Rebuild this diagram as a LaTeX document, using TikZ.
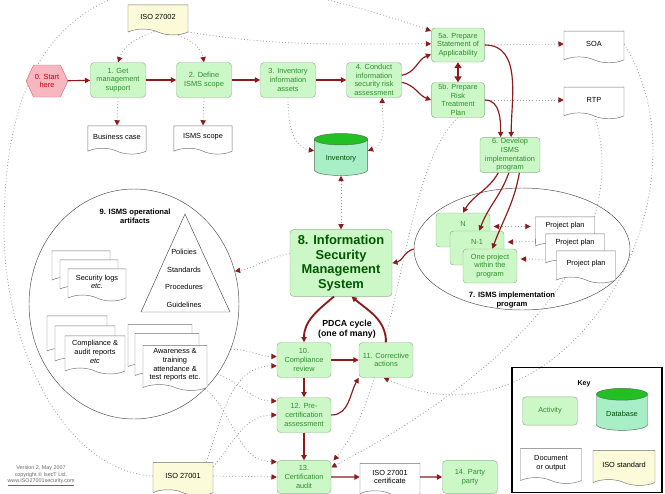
\documentclass[tikz,border=0pt]{standalone}
\usepackage{fontspec}
\setmainfont{Liberation Sans}
\usetikzlibrary{arrows.meta,positioning,calc,shapes.geometric,shapes.symbols,backgrounds}
\definecolor{actfill}{HTML}{CCF7C6}
\definecolor{actline}{HTML}{8FB58A}
\definecolor{acttext}{HTML}{2F8F2F}
\definecolor{flowred}{HTML}{8E1B1B}
\definecolor{refgray}{HTML}{9A9A9A}
\definecolor{docline}{HTML}{707070}
\definecolor{isofill}{HTML}{FBFBDA}
\definecolor{startfill}{HTML}{F8B7C0}
\definecolor{startline}{HTML}{D46A78}
\definecolor{dbtop}{HTML}{22C022}
\definecolor{dbbody}{HTML}{A8EFC8}
\newcommand{\boxfont}{\fontsize{6.3}{7.4}\selectfont}

\begin{document}
\begin{tikzpicture}[x=0.03cm,y=-0.03cm,>={Triangle[length=4.5pt,width=4.5pt]},
  redtip/.tip={Triangle[length=4.5pt,width=4.5pt,color=flowred]},
  act/.style={draw=actline,fill=actfill,rounded corners=3pt,text=acttext,align=center,
    inner sep=1pt,minimum width=1.65cm,minimum height=1.05cm,font=\boxfont},
  doc/.style={tape,tape bend top=none,tape bend bottom=out and in,tape bend height=5pt,
    draw=docline,fill=white,align=center,inner sep=1pt,minimum width=1.8cm,
    minimum height=0.95cm,font=\boxfont},
  iso/.style={doc,fill=isofill},
  db/.style={cylinder,shape border rotate=90,aspect=0.3,draw=actline!60!black,
    cylinder uses custom fill,cylinder body fill=dbbody,cylinder end fill=dbtop,
    text=green!30!black,minimum width=1.6cm,minimum height=1.26cm,font=\boxfont},
  title/.style={font=\bfseries\fontsize{6.5}{7.5}\selectfont,align=center},
  flow/.style={->,draw=flowred,line width=1pt},
  pdcaflow/.style={->,draw=flowred,line width=1.6pt},
  ref/.style={-redtip,draw=refgray,dotted,line width=0.7pt},
  ref2/.style={redtip-redtip,draw=refgray,dotted,line width=0.7pt}]
\useasboundingbox (0,0) rectangle (665,493);

\node[draw=black!70,ellipse,minimum width=6.3cm,minimum height=6.9cm] (art) at (134,304) {};
\node[title] (artlbl) at (135,216) {9. ISMS operational\\artifacts};
\node[draw=black!70,ellipse,minimum width=6.48cm,minimum height=3.66cm] (prog) at (522,249) {};
\node[title] (proglbl) at (512,300) {7. ISMS implementation\\program};

\node[iso,minimum height=0.9cm] (iso2) at (158,17) {ISO 27002};
\node[signal,signal to=east and west,signal pointer angle=130,draw=startline,fill=startfill,
  text=red!75!black,font=\boxfont,align=center,inner sep=1pt,minimum width=1.23cm,
  minimum height=0.96cm] (start) at (47,81) {0. Start\\here};
\node[act] (a1) at (118,80) {1. Get\\management\\support};
\node[act] (a2) at (204,80) {2. Define\\ISMS scope};
\node[act] (a3) at (288,80) {3. Inventory\\information\\assets};
\node[act] (a4) at (374,80) {4. Conduct\\information\\security risk\\assessment};
\node[act,minimum width=1.6cm,minimum height=1.02cm] (a5a) at (458,45) {5a. Prepare\\Statement of\\Applicability};
\node[act,minimum width=1.6cm] (a5b) at (458,100) {5b. Prepare\\Risk\\Treatment\\Plan};
\node[doc] (soa) at (594,44) {SOA};
\node[doc] (rtp) at (594,100) {RTP};
\node[act,minimum width=1.8cm] (a6) at (510,155) {6. Develop\\ISMS\\implementation\\program};
\node[doc,minimum width=1.75cm,minimum height=0.85cm] (bcase) at (117,137) {Business case};
\node[doc,minimum width=1.75cm,minimum height=0.85cm] (scopedoc) at (203,137) {ISMS scope};
\node[db] (inv) at (341,159) {Inventory};
\node[act,minimum width=3.06cm,minimum height=2cm,text=green!35!black,
  font=\bfseries\fontsize{11}{12.5}\selectfont] (isms) at (341,263) {8. Information\\Security\\Management\\System};

\draw[black!70] (185,214) -- (230,312) -- (141,312) -- cycle;
\foreach \t/\y in {Policies/252,Standards/270,Procedures/287,Guidelines/305}
  \node[font=\boxfont] (\t) at (184,\y) {\t};

\foreach \i/\x/\y in {1/81/264,2/89/273}
  \node[doc,minimum width=1.74cm,minimum height=0.96cm] (logs\i) at (\x,\y) {};
\node[doc,minimum width=1.74cm,minimum height=0.96cm] (logs) at (97,282) {Security logs\\\textit{etc.}};
\foreach \i/\x/\y in {1/77/332,2/85/342}
  \node[doc,minimum width=1.8cm,minimum height=1.14cm] (comp\i) at (\x,\y) {};
\node[doc,minimum width=1.8cm,minimum height=1.14cm] (comp) at (95,352) {Compliance \&\\audit reports\\\textit{etc}};
\foreach \i/\x/\y in {1/160/344,2/167/353}
  \node[doc,minimum width=1.92cm,minimum height=1.35cm] (aware\i) at (\x,\y) {};
\node[doc,minimum width=1.92cm,minimum height=1.35cm] (aware) at (175,365) {Awareness \&\\training\\attendance \&\\test reports etc.};

\node[act,minimum width=1.62cm,minimum height=1.02cm,text depth=10pt] (pn) at (463,230) {N};
\node[act,minimum width=1.62cm,minimum height=1.02cm,text depth=10pt] (pn1) at (477,248) {N-1};
\node[act,minimum width=1.62cm,minimum height=1.02cm] (pone) at (490,266) {One project\\within the\\program};
\node[doc,minimum width=1.77cm,minimum height=0.96cm,text depth=8pt] (pp1) at (565,230) {Project plan};
\node[doc,minimum width=1.77cm,minimum height=0.96cm,text depth=8pt] (pp2) at (575,247) {Project plan};
\node[doc,minimum width=1.77cm,minimum height=0.96cm] (pp3) at (586,264) {Project plan};

\node[act,minimum width=1.62cm] (a10) at (304,360) {10.\\Compliance\\review};
\node[act,minimum width=1.62cm] (a11) at (386,360) {11. Corrective\\actions};
\node[act,minimum width=1.62cm] (a12) at (304,415) {12. Pre-\\certification\\assessment};
\node[act,minimum width=1.62cm,minimum height=0.98cm] (a13) at (304,477) {13.\\Certification\\audit};
\node[doc,minimum height=1cm] (cert) at (390,477) {ISO 27001\\certificate};
\node[act,minimum width=1.65cm,minimum height=0.98cm] (a14) at (470,477) {14. Party\\party};
\node[iso,minimum height=1cm] (iso1) at (183,476) {ISO 27001};
\node[title,font=\bfseries\fontsize{7.5}{8.6}\selectfont] (pdca) at (347,329) {PDCA cycle\\(one of many)};
\node[font=\fontsize{4.6}{5.4}\selectfont,text=black!60,align=center] (ver) at (41,476)
  {Version 2, May 2007\\copyright \textcopyright{} IsecT Ltd.\\\underline{www.ISO27001security.com}};

\node[draw,line width=1.5pt,minimum width=4.5cm,minimum height=3.75cm] (key) at (587,430) {};
\node[font=\bfseries\fontsize{6}{7}\selectfont] (keylbl) at (584,384) {Key};
\node[act,minimum width=1.65cm,minimum height=0.85cm] (kact) at (550,411) {Activity};
\node[db,minimum width=1.53cm,minimum height=1.26cm] (kdb) at (622,414) {Database};
\node[doc,minimum width=1.83cm,minimum height=1.05cm] (kdoc) at (551,463) {Document\\or output};
\node[iso,minimum width=1.86cm,minimum height=1.05cm] (kiso) at (624,465) {ISO standard};

\draw[flow] (start) -- (a1);
\draw[flow] (a1) -- (a2);
\draw[flow] (a2) -- (a3);
\draw[flow] (a3) -- (a4);
\draw[flow] ([yshift=4pt]a4.east) to[out=10,in=200] ([yshift=-8pt]a5a.west);
\draw[flow] ([yshift=-2pt]a4.east) to[out=-10,in=160] (a5b.west);
\draw[draw=flowred,line width=1.8pt,{Triangle[length=5pt,width=6pt]}-{Triangle[length=5pt,width=6pt]}] (a5a) -- (a5b);
\draw[flow] (a5a.east) to[out=0,in=90] ([xshift=1pt]a6.north);
\draw[flow] (a5b.east) to[out=0,in=90] ([xshift=-8pt]a6.north);
\draw[flow] ([xshift=-10pt]a6.south) to[out=-120,in=60] (pn.north);
\draw[flow] ([xshift=-1pt]a6.south) to[out=-110,in=70] ([xshift=2pt]pn1.north);
\draw[flow] ([xshift=8pt]a6.south) to[out=-100,in=70] ([xshift=2pt]pone.north);
\draw[flow] (prog.west) to[out=-165,in=10] (isms.east);
\draw[pdcaflow] ([xshift=-6pt]isms.south) to[out=-140,in=90] (a10.north);
\draw[pdcaflow] (a11.north) to[out=90,in=-40] ([xshift=9pt]isms.south);
\draw[pdcaflow] (a10) -- (a11);
\draw[flow] (a10) -- (a12);
\draw[flow] (a12.east) to[out=0,in=-120] (a11.south west);
\draw[flow] (a12) -- (a13);
\draw[flow] (a13) -- (cert);
\draw[flow] (cert) -- (a14);

\begin{scope}[on background layer]
\draw[ref] ([xshift=2pt]iso2.south) to[out=-160,in=70] (a1.north);
\draw[ref] ([xshift=8pt]iso2.south) to[out=-30,in=100] (a2.north);
\draw[ref] ([xshift=12pt]iso2.south) to[out=-10,in=180] ([yshift=1pt]a5a.west);
\draw[ref] (iso1.west) .. controls (60,470) and (4,340) .. (4,230)
  .. controls (4,10) and (110,-80) .. ([yshift=12pt]a5a.west);
\draw[ref] (a1.south) -- (bcase.north);
\draw[ref] (a2.south) -- (scopedoc.north);
\draw[ref] (a5a.east) -- (soa.west);
\draw[ref] (a5b.east) -- (rtp.west);
\draw[ref] (a3.south) to[out=-90,in=170] ([yshift=7pt]inv.west);
\draw[ref2] ([yshift=7pt]inv.east) to[out=20,in=-90] ([xshift=7pt]a4.south);
\draw[ref2] (inv.south) -- (isms.north);
\draw[ref] ([yshift=8pt]isms.west) to[out=190,in=10] (art.18);
\draw[ref2,shorten <=3pt,shorten >=4pt] ([yshift=3pt]pn.east) -- ([yshift=3pt]pp1.west);
\draw[ref2,shorten <=3pt,shorten >=4pt] ([yshift=5pt]pn1.east) -- ([yshift=5pt]pp2.west);
\draw[ref2,shorten <=3pt,shorten >=4pt] ([yshift=6pt]pone.east) -- ([yshift=4pt]pp3.west);
\draw[ref] (art.-25) to[out=0,in=180] ([yshift=3pt]a10.west);
\draw[ref] (art.-40) to[out=-20,in=180] ([yshift=12pt]a12.west);
\draw[ref] (art.-50) to[out=-40,in=180] ([yshift=13pt]a13.west);
\draw[ref] ([xshift=-6pt]iso1.north east) to[out=70,in=180] ([yshift=-5pt]a10.west);
\draw[ref] ([yshift=-4pt]iso1.north east) to[out=50,in=180] (a12.west);
\draw[ref] (iso1.east) -- (a13.west);
\draw[ref] (soa.east) .. controls (720,200) and (560,460) .. ([xshift=-2pt]a11.south);
\draw[ref] (rtp.south) .. controls (640,260) and (480,390) .. ([yshift=-6pt]a13.north east);
\draw[ref] (a5b.south) .. controls (400,170) and (400,380) .. ([xshift=2pt]a13.north east);
\end{scope}
\end{tikzpicture}
\end{document}
